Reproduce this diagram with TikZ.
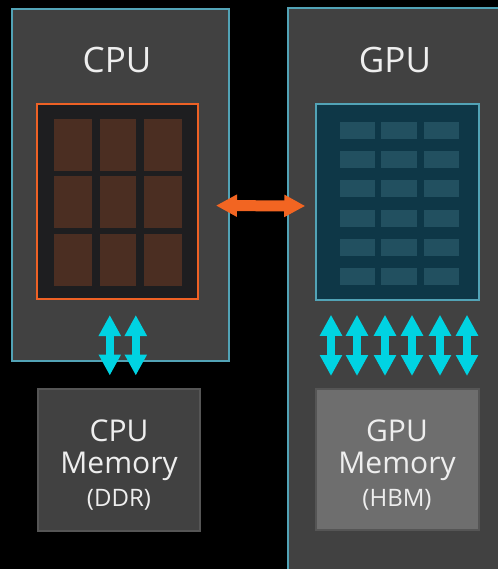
\documentclass[tikz,border=0pt]{standalone}
\usepackage{fontspec}
\setmainfont{Open Sans}
\usetikzlibrary{arrows.meta,fit,calc}
\definecolor{boxgray}{HTML}{414141}
\definecolor{edgeblue}{HTML}{52A3B6}
\definecolor{corebg}{HTML}{1E1E20}
\definecolor{coreedge}{HTML}{EE6125}
\definecolor{corefill}{HTML}{4B2E22}
\definecolor{smbg}{HTML}{0E3747}
\definecolor{smcell}{HTML}{225060}
\definecolor{memedge}{HTML}{555555}
\definecolor{hbmfill}{HTML}{6E6E6E}
\definecolor{busorange}{HTML}{F26522}
\definecolor{buscyan}{HTML}{00D3E2}
\definecolor{txt}{HTML}{EEEEEE}
\begin{document}
\begin{tikzpicture}[x=0.5pt,y=-0.5pt,
		chip/.style={draw=edgeblue,line width=0.75pt,fill=boxgray,inner sep=0pt},
		title/.style={text=txt,font=\fontsize{17.5}{20}\selectfont,anchor=base,inner sep=0pt},
		memtext/.style={text=txt,font=\fontsize{15}{16}\selectfont,align=center,inner sep=0pt},
		membus/.style={buscyan,line width=4pt,{Triangle[width=10.5pt,length=10.5pt]}-{Triangle[width=10.5pt,length=10.5pt]}},
		link/.style={busorange,line width=5.5pt,{Triangle[width=10.5pt,length=10.5pt]}-{Triangle[width=10.5pt,length=10.5pt]}}]
		\fill[black](0,0) rectangle (498,569);
		\useasboundingbox (0,0) rectangle (498,569);
		
		% CPU side
		\node(cpu)[chip,fit={(12,9) (229,361)}]{};
		\node(cputitle)[title] at (117,72){CPU};
		\node(cores)[draw=coreedge,line width=1pt,fill=corebg,inner sep=0pt,fit={(37,104) (198,299)}]{};
		\foreach \x/\w in {54/38,100/36,144/38}
			\foreach \y in {119,176,234}
				\fill[corefill](\x,\y) rectangle ++(\w,52);
		
		% GPU side
		\node(gpu)[chip,fit={(288,8) (510,580)}]{};
		\node(gputitle)[title] at (395,72){GPU};
		\node(sm)[draw=edgeblue,line width=0.75pt,fill=smbg,inner sep=0pt,fit={(316,104) (479,300)}]{};
		\foreach \x/\w in {340/35,381/36,424/35}
			\foreach \y in {122,151,180,210,239,268}
				\fill[smcell](\x,\y) rectangle ++(\w,17);
		
		% memories
		\node(cpumem)[draw=memedge,line width=1pt,fill=boxgray,inner sep=0pt,fit={(38,389) (200,531)}]{};
		\node(gpumem)[draw=memedge,line width=1pt,fill=hbmfill,inner sep=0pt,fit={(316,389) (479,530)}]{};
		\node(cpumemtext)[memtext] at (119,465){CPU\\Memory\\[0.5pt]{\fontsize{12}{16}\selectfont(DDR)}};
		\node(gpumemtext)[memtext] at (397,465){GPU\\Memory\\[0.5pt]{\fontsize{12}{16}\selectfont(HBM)}};
		
		% buses
		\draw[link,shorten <=8.5pt,shorten >=5pt]([yshift=-2pt]cores.east)--([yshift=-2pt]sm.west);
		\foreach \dx in {-7.7,18.3}
			\draw[membus,shorten <=7.5pt,shorten >=6.25pt]($(cores.south)+(\dx,0)$)--($(cores.south|-cpumem.north)+(\dx,0)$);
		\foreach \dx in {-66.5,-40.5,-12.5,14.5,42.5,69.5}
			\draw[membus,shorten <=7pt,shorten >=6pt]($(sm.south)+(\dx,0)$)--($(sm.south|-gpumem.north)+(\dx,0)$);
\end{tikzpicture}
\end{document}
